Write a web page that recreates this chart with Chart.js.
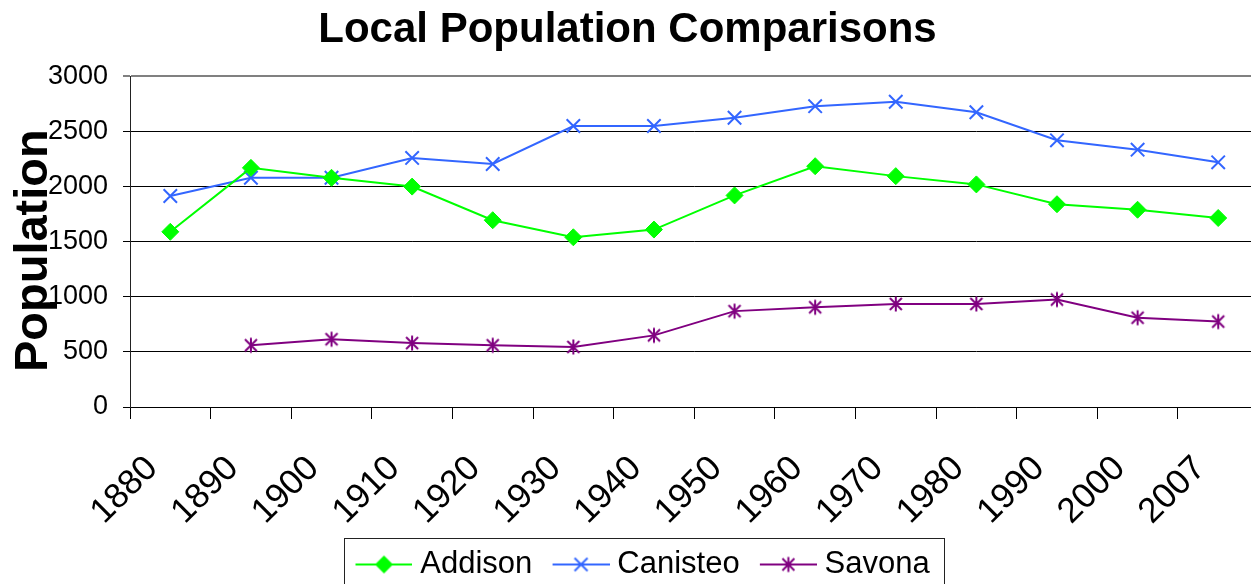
<!DOCTYPE html>
<html>
<head>
<meta charset="utf-8">
<script src="https://cdn.jsdelivr.net/npm/chart.js@4.4.0/dist/chart.umd.min.js"></script>
<style>
  html, body { margin: 0; padding: 0; background: #fff; overflow: hidden; }
  #wrap { width: 1251px; height: 584px; overflow: hidden; position: relative; }
  canvas { display: block; }
</style>
</head>
<body>
<div id="wrap"><canvas id="chart" width="1270" height="590"></canvas></div>
<script>
// Census years and town populations
const years = ['1880', '1890', '1900', '1910', '1920', '1930', '1940',
               '1950', '1960', '1970', '1980', '1990', '2000', '2007'];
const addison  = [1590, 2170, 2080, 2000, 1695, 1540, 1610, 1920, 2185, 2095, 2020, 1840, 1790, 1715];
const canisteo = [1915, 2080, 2080, 2260, 2205, 2550, 2550, 2625, 2730, 2770, 2675, 2420, 2335, 2220];
const savona   = [null, 560, 615, 580, 560, 545, 650, 870, 905, 935, 935, 975, 810, 775];
const yMin = 0, yMax = 3000, yStep = 500;

const FONT = "'Liberation Sans', Arial, sans-serif";
const GREEN = '#00FF00', BLUE = '#3366FF', PURPLE = '#800080';

// Marker drawing helpers (used for the Savona asterisk and the legend swatches)
function drawMarker(ctx, kind, color, cx, cy) {
  ctx.save();
  ctx.strokeStyle = color;
  ctx.fillStyle = color;
  ctx.lineWidth = 2;
  ctx.beginPath();
  if (kind === 'diamond') {
    const r = 9;
    ctx.moveTo(cx - r, cy); ctx.lineTo(cx, cy - r);
    ctx.lineTo(cx + r, cy); ctx.lineTo(cx, cy + r);
    ctx.closePath(); ctx.fill();
  } else if (kind === 'x') {
    const r = 6.5;
    ctx.moveTo(cx - r, cy - r); ctx.lineTo(cx + r, cy + r);
    ctx.moveTo(cx - r, cy + r); ctx.lineTo(cx + r, cy - r);
    ctx.stroke();
  } else if (kind === 'asterisk') {
    const r = 6;
    ctx.moveTo(cx - r, cy - r); ctx.lineTo(cx + r, cy + r);
    ctx.moveTo(cx - r, cy + r); ctx.lineTo(cx + r, cy - r);
    ctx.moveTo(cx, cy - 7.5); ctx.lineTo(cx, cy + 7.5);
    ctx.stroke();
  }
  ctx.restore();
}

function markerImage(kind, color) {
  const c = document.createElement('canvas');
  c.width = 18; c.height = 18;
  drawMarker(c.getContext('2d'), kind, color, 9, 9);
  return c;
}

// Legend swatch: a short line with the marker in its middle, drawn
// with an empty margin on the left so it sits 10px into its legend box
const SWATCH_MARGIN = 18, SWATCH_LINE = 57;
function legendSwatch(kind, color) {
  const c = document.createElement('canvas');
  c.width = SWATCH_MARGIN + SWATCH_LINE; c.height = 22;
  const g = c.getContext('2d');
  g.strokeStyle = color; g.lineWidth = 2;
  g.beginPath(); g.moveTo(SWATCH_MARGIN, 11); g.lineTo(SWATCH_MARGIN + SWATCH_LINE, 11); g.stroke();
  drawMarker(g, kind, color, SWATCH_MARGIN + SWATCH_LINE / 2, 11);
  return c;
}

const swatches = [
  legendSwatch('diamond', GREEN),
  legendSwatch('x', BLUE),
  legendSwatch('asterisk', PURPLE)
];

// Legend frame, horizontal placement of the title and legend,
// and a small downward shift of the vertical axis title
const legendFrame = {
  id: 'legendFrame',
  afterLayout(chart) {
    if (chart.titleBlock) { chart.titleBlock.left -= 5; chart.titleBlock.right -= 5; }
    if (chart.legend) { chart.legend.left += 5; chart.legend.right += 5; }
    const ys = chart.scales.y;
    if (ys && !ys._titleShifted) {
      const drawTitle = ys.drawTitle.bind(ys);
      ys.drawTitle = function () {
        this.ctx.save();
        this.ctx.translate(0, 9);
        drawTitle();
        this.ctx.restore();
      };
      ys._titleShifted = true;
    }
  },
  afterDraw(chart) {
    const hb = chart.legend && chart.legend.legendHitBoxes;
    if (!hb || !hb.length) return;
    const first = hb[0], last = hb[hb.length - 1];
    const left = Math.round(first.left - 1.5) + 0.5;
    const top = Math.round(first.top - 11.5) + 0.5;
    const right = Math.round(last.left + last.width + 14) + 0.5;
    const ctx = chart.ctx;
    ctx.save();
    ctx.strokeStyle = '#222';
    ctx.lineWidth = 1;
    ctx.strokeRect(left, top, right - left, 80);
    ctx.restore();
  }
};

new Chart(document.getElementById('chart'), {
  type: 'line',
  data: {
    labels: years,
    datasets: [
      {
        label: 'Addison', data: addison,
        borderColor: GREEN, backgroundColor: GREEN, borderWidth: 2,
        pointStyle: 'rectRot', pointRadius: 8.5, pointBorderWidth: 1,
        pointBackgroundColor: GREEN, pointBorderColor: GREEN
      },
      {
        label: 'Canisteo', data: canisteo,
        borderColor: BLUE, backgroundColor: BLUE, borderWidth: 2,
        pointStyle: 'crossRot', pointRadius: 9.5, pointBorderWidth: 2,
        pointBorderColor: BLUE
      },
      {
        label: 'Savona', data: savona,
        borderColor: PURPLE, backgroundColor: PURPLE, borderWidth: 2,
        pointStyle: markerImage('asterisk', PURPLE), pointRadius: 8,
        spanGaps: false
      }
    ]
  },
  options: {
    responsive: false,
    animation: false,
    devicePixelRatio: 1,
    layout: { padding: { left: 0, right: 5, top: 0, bottom: 0 } },
    elements: { line: { tension: 0, fill: false } },
    plugins: {
      title: {
        display: true,
        text: 'Local Population Comparisons',
        color: '#000',
        font: { family: FONT, size: 42, weight: 'bold' },
        padding: { top: 5, bottom: 21 }
      },
      legend: {
        display: true,
        position: 'bottom',
        labels: {
          color: '#000',
          font: { family: FONT, size: 31 },
          usePointStyle: true,
          pointStyleWidth: 59.5,
          padding: 10,
          generateLabels: (chart) => chart.data.datasets.map((ds, i) => ({
            text: ds.label,
            pointStyle: swatches[i],
            fillStyle: ds.borderColor,
            strokeStyle: ds.borderColor,
            lineWidth: 0,
            hidden: false,
            datasetIndex: i
          }))
        }
      },
      tooltip: { enabled: false }
    },
    scales: {
      x: {
        type: 'category',
        offset: true,
        grid: {
          offset: true,
          drawOnChartArea: false,
          drawTicks: true,
          tickLength: 12,
          color: '#000'
        },
        border: { display: true, color: '#000', width: 1 },
        ticks: {
          color: '#000',
          font: { family: FONT, size: 35 },
          minRotation: 45,
          maxRotation: 45,
          autoSkip: false,
          padding: 29,
          labelOffset: -18
        },
        afterFit: (s) => {
          s.height = 132;
          s.paddingLeft = 0;
          s.paddingRight = 0;
        }
      },
      y: {
        min: yMin,
        max: yMax,
        grid: {
          color: (c) => (c.tick && c.tick.value === yMax ? '#808080' : '#000'),
          lineWidth: (c) => (c.tick && c.tick.value === yMax ? 2 : 1),
          tickLength: 7,
          drawTicks: true
        },
        border: { display: true, color: '#222', width: 1 },
        ticks: {
          stepSize: yStep,
          color: '#000',
          font: { family: FONT, size: 27 },
          padding: 15,
          callback: (v) => String(v)
        },
        title: {
          display: true,
          text: 'Population',
          color: '#000',
          font: { family: FONT, size: 47, weight: 'bold' },
          padding: { top: 6, bottom: 0 }
        },
        afterFit: (s) => { s.width = 130; }
      }
    }
  },
  plugins: [legendFrame]
});
</script>
</body>
</html>
